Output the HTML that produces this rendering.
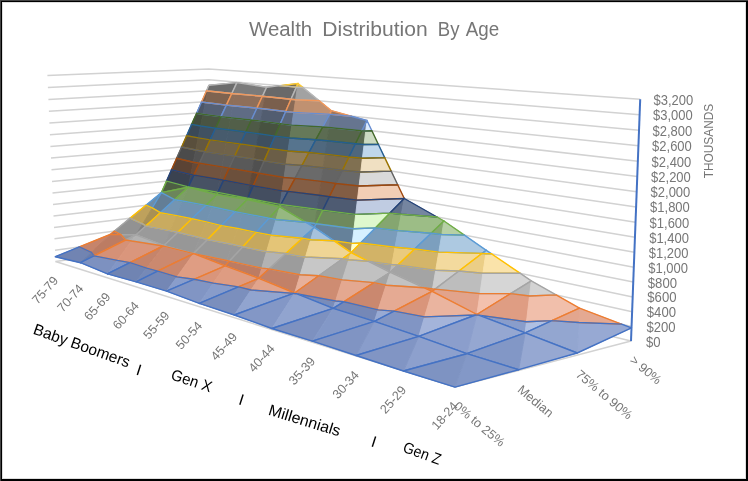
<!DOCTYPE html>
<html><head><meta charset="utf-8"><title>Wealth Distribution By Age</title>
<style>
html,body{margin:0;padding:0;background:#fff}
#chart{position:relative;width:748px;height:481px;background:#fff;overflow:hidden}
svg{position:absolute;left:0;top:0;display:block;will-change:transform}
text{font-family:"Liberation Sans",sans-serif}
</style></head><body>
<div id="chart">
<svg xmlns="http://www.w3.org/2000/svg" width="748" height="481" viewBox="0 0 748 481">
 <path d="M0 0H748V481H0ZM2 2V479H746V2Z" fill="#000" fill-rule="evenodd"/>
<rect x="0" y="0" width="748" height="1" fill="#444"/><rect x="0" y="0" width="1" height="481" fill="#444"/>
<rect x="2.5" y="2.5" width="743" height="476" fill="none" stroke="#000" stroke-opacity="0.13"/>
<path d="M55.5 261.5L212.2 239.6L631.0 341.1M55.0 250.2L212.0 229.1L631.6 326.4M54.5 238.8L211.8 218.7L632.1 311.7M54.0 227.4L211.6 208.2L632.7 297.0M53.5 216.0L211.3 197.7L633.3 282.1M53.0 204.5L211.1 187.1L633.8 267.2M52.5 192.9L210.9 176.5L634.4 252.3M52.0 181.4L210.7 165.9L635.0 237.3M51.5 169.8L210.4 155.2L635.5 222.2M51.0 158.1L210.2 144.6L636.1 207.0M50.4 146.5L210.0 133.8L636.7 191.8M49.9 134.8L209.7 123.1L637.3 176.5M49.4 123.0L209.5 112.3L637.9 161.2M48.9 111.2L209.3 101.5L638.5 145.8M48.4 99.4L209.0 90.7L639.0 130.3M47.9 87.5L208.8 79.8L639.6 114.8M47.4 75.6L208.6 68.9L640.2 99.2" fill="none" stroke="#D2D2D2" stroke-width="1.5" stroke-linejoin="round"/>
<path d="M55.5 261.5L455.0 387.1L631.0 341.1" fill="none" stroke="#D2D2D2" stroke-width="1.5" stroke-linejoin="round"/>
<g stroke-linejoin="round">
<polygon points="161.4,192.6 188.2,187.3 188.3,186.9 166.5,181.1" fill="#4e5f43" stroke="#4e5f43" stroke-width="0.9"/>
<polygon points="188.3,186.9 190.8,174.5 171.5,169.7 166.5,181.1" fill="#3a4250" stroke="#3a4250" stroke-width="0.9"/>
<polygon points="190.8,174.5 193.3,162.2 176.6,158.3 171.5,169.7" fill="#5b4334" stroke="#5b4334" stroke-width="0.9"/>
<polygon points="193.3,162.2 195.8,150.0 181.6,147.0 176.6,158.3" fill="#4b4b4b" stroke="#4b4b4b" stroke-width="0.9"/>
<polygon points="195.8,150.0 198.2,137.9 186.6,135.7 181.6,147.0" fill="#594f3c" stroke="#594f3c" stroke-width="0.9"/>
<polygon points="198.2,137.9 200.6,126.0 191.6,124.4 186.6,135.7" fill="#3a4957" stroke="#3a4957" stroke-width="0.9"/>
<polygon points="200.6,126.0 203.0,114.2 196.6,113.2 191.6,124.4" fill="#424c3c" stroke="#424c3c" stroke-width="0.9"/>
<polygon points="203.0,114.2 205.4,102.5 201.5,102.0 196.6,113.2" fill="#4c5668" stroke="#4c5668" stroke-width="0.9"/>
<polygon points="205.4,102.5 207.8,91.0 206.5,90.8 201.5,102.0" fill="#715948" stroke="#715948" stroke-width="0.9"/>
<polygon points="207.8,91.0 208.9,85.2 206.5,90.8" fill="#616161" stroke="#616161" stroke-width="0.9"/>
<polygon points="188.2,187.3 188.4,186.9 188.3,186.9" fill="#57694a" stroke="#57694a" stroke-width="0.9"/>
<polygon points="188.4,186.9 193.9,175.1 190.8,174.5 188.3,186.9" fill="#404959" stroke="#404959" stroke-width="0.9"/>
<polygon points="193.9,175.1 199.4,163.3 193.3,162.2 190.8,174.5" fill="#654a39" stroke="#654a39" stroke-width="0.9"/>
<polygon points="199.4,163.3 204.8,151.6 195.8,150.0 193.3,162.2" fill="#535353" stroke="#535353" stroke-width="0.9"/>
<polygon points="204.8,151.6 210.2,139.9 198.2,137.9 195.8,150.0" fill="#635842" stroke="#635842" stroke-width="0.9"/>
<polygon points="210.2,139.9 215.6,128.3 200.6,126.0 198.2,137.9" fill="#405161" stroke="#405161" stroke-width="0.9"/>
<polygon points="215.6,128.3 221.0,116.6 203.0,114.2 200.6,126.0" fill="#495442" stroke="#495442" stroke-width="0.9"/>
<polygon points="221.0,116.6 226.4,105.1 205.4,102.5 203.0,114.2" fill="#556074" stroke="#556074" stroke-width="0.9"/>
<polygon points="226.4,105.1 231.8,93.5 207.8,91.0 205.4,102.5" fill="#7e6350" stroke="#7e6350" stroke-width="0.9"/>
<polygon points="231.8,93.5 236.9,82.6 208.9,85.2 207.8,91.0" fill="#6c6c6c" stroke="#6c6c6c" stroke-width="0.9"/>
<path d="M208.9 85.2L206.5 90.8M206.5 90.8L207.8 91.0M231.8 93.5L236.9 82.6M236.9 82.6L208.9 85.2M207.8 91.0L231.8 93.5" stroke="#B7B7B7" fill="none" stroke-width="1.4" stroke-linecap="round"/>
<path d="M207.8 91.0L206.5 90.8M206.5 90.8L201.5 102.0M201.5 102.0L205.4 102.5M226.4 105.1L231.8 93.5M231.8 93.5L207.8 91.0M205.4 102.5L226.4 105.1" stroke="#F1975A" fill="none" stroke-width="1.4" stroke-linecap="round"/>
<path d="M205.4 102.5L201.5 102.0M201.5 102.0L196.6 113.2M196.6 113.2L203.0 114.2M221.0 116.6L226.4 105.1M226.4 105.1L205.4 102.5M203.0 114.2L221.0 116.6" stroke="#698ED0" fill="none" stroke-width="1.4" stroke-linecap="round"/>
<path d="M203.0 114.2L196.6 113.2M196.6 113.2L191.6 124.4M191.6 124.4L200.6 126.0M215.6 128.3L221.0 116.6M221.0 116.6L203.0 114.2M200.6 126.0L215.6 128.3" stroke="#43682B" fill="none" stroke-width="1.4" stroke-linecap="round"/>
<path d="M200.6 126.0L191.6 124.4M191.6 124.4L186.6 135.7M186.6 135.7L198.2 137.9M210.2 139.9L215.6 128.3M215.6 128.3L200.6 126.0M198.2 137.9L210.2 139.9" stroke="#255E91" fill="none" stroke-width="1.4" stroke-linecap="round"/>
<path d="M198.2 137.9L186.6 135.7M186.6 135.7L181.6 147.0M181.6 147.0L195.8 150.0M204.8 151.6L210.2 139.9M210.2 139.9L198.2 137.9M195.8 150.0L204.8 151.6" stroke="#997300" fill="none" stroke-width="1.4" stroke-linecap="round"/>
<path d="M195.8 150.0L181.6 147.0M181.6 147.0L176.6 158.3M176.6 158.3L193.3 162.2M199.4 163.3L204.8 151.6M204.8 151.6L195.8 150.0M193.3 162.2L199.4 163.3" stroke="#636363" fill="none" stroke-width="1.4" stroke-linecap="round"/>
<path d="M193.3 162.2L176.6 158.3M176.6 158.3L171.5 169.7M171.5 169.7L190.8 174.5M193.9 175.1L199.4 163.3M199.4 163.3L193.3 162.2M190.8 174.5L193.9 175.1" stroke="#9E480E" fill="none" stroke-width="1.4" stroke-linecap="round"/>
<path d="M190.8 174.5L171.5 169.7M171.5 169.7L166.5 181.1M166.5 181.1L188.3 186.9M188.4 186.9L193.9 175.1M193.9 175.1L190.8 174.5M188.3 186.9L188.4 186.9" stroke="#264478" fill="none" stroke-width="1.4" stroke-linecap="round"/>
<path d="M161.4 192.6L188.2 187.3M188.3 186.9L166.5 181.1M166.5 181.1L161.4 192.6M188.2 187.3L188.4 186.9M188.4 186.9L188.3 186.9" stroke="#70AD47" fill="none" stroke-width="1.4" stroke-linecap="round"/>
<polygon points="110.1,234.5 121.0,234.6 114.1,231.2" fill="#b57961" stroke="#b57961" stroke-width="0.9"/>
<polygon points="121.0,234.6 136.1,234.8 142.7,223.8 130.1,218.1 114.1,231.2" fill="#929292" stroke="#929292" stroke-width="0.9"/>
<polygon points="142.7,223.8 152.2,207.9 145.9,205.2 130.1,218.1" fill="#bea15c" stroke="#bea15c" stroke-width="0.9"/>
<polygon points="152.2,207.9 161.4,192.6 145.9,205.2" fill="#6e8da9" stroke="#6e8da9" stroke-width="0.9"/>
<polygon points="136.1,234.8 145.8,225.9 142.7,223.8" fill="#828282" stroke="#828282" stroke-width="0.9"/>
<polygon points="145.8,225.9 160.3,212.7 152.2,207.9 142.7,223.8" fill="#a89054" stroke="#a89054" stroke-width="0.9"/>
<polygon points="160.3,212.7 174.6,199.7 161.4,192.6 152.2,207.9" fill="#637e96" stroke="#637e96" stroke-width="0.9"/>
<polygon points="174.6,199.7 188.2,187.3 161.4,192.6" fill="#6c855b" stroke="#6c855b" stroke-width="0.9"/>
<path d="M174.6 199.7L188.2 187.3M188.2 187.3L161.4 192.6" stroke="#70AD47" fill="none" stroke-width="1.4" stroke-linecap="round"/>
<path d="M161.4 192.6L145.9 205.2M145.9 205.2L152.2 207.9M160.3 212.7L174.6 199.7M174.6 199.7L161.4 192.6M161.4 192.6L152.2 207.9M152.2 207.9L160.3 212.7" stroke="#5B9BD5" fill="none" stroke-width="1.4" stroke-linecap="round"/>
<path d="M152.2 207.9L145.9 205.2M145.9 205.2L130.1 218.1M130.1 218.1L142.7 223.8M145.8 225.9L160.3 212.7M160.3 212.7L152.2 207.9M142.7 223.8L145.8 225.9" stroke="#FFC000" fill="none" stroke-width="1.4" stroke-linecap="round"/>
<path d="M121.0 234.6L136.1 234.8M142.7 223.8L130.1 218.1M130.1 218.1L114.1 231.2M114.1 231.2L121.0 234.6M136.1 234.8L145.8 225.9M145.8 225.9L142.7 223.8" stroke="#A5A5A5" fill="none" stroke-width="1.4" stroke-linecap="round"/>
<path d="M110.1 234.5L121.0 234.6M121.0 234.6L114.1 231.2M114.1 231.2L110.1 234.5" stroke="#ED7D31" fill="none" stroke-width="1.4" stroke-linecap="round"/>
<polygon points="188.2,187.3 216.9,194.6 217.4,192.3 188.4,186.9" fill="#617653" stroke="#617653" stroke-width="0.9"/>
<polygon points="217.4,192.3 219.6,179.5 193.9,175.1 188.4,186.9" fill="#475264" stroke="#475264" stroke-width="0.9"/>
<polygon points="219.6,179.5 221.9,166.9 199.4,163.3 193.9,175.1" fill="#71533f" stroke="#71533f" stroke-width="0.9"/>
<polygon points="221.9,166.9 224.1,154.4 204.8,151.6 199.4,163.3" fill="#5d5d5d" stroke="#5d5d5d" stroke-width="0.9"/>
<polygon points="224.1,154.4 226.3,142.1 210.2,139.9 204.8,151.6" fill="#6f624a" stroke="#6f624a" stroke-width="0.9"/>
<polygon points="226.3,142.1 228.5,129.8 215.6,128.3 210.2,139.9" fill="#475b6d" stroke="#475b6d" stroke-width="0.9"/>
<polygon points="228.5,129.8 230.6,117.7 221.0,116.6 215.6,128.3" fill="#515e49" stroke="#515e49" stroke-width="0.9"/>
<polygon points="230.6,117.7 232.7,105.7 226.4,105.1 221.0,116.6" fill="#5f6c83" stroke="#5f6c83" stroke-width="0.9"/>
<polygon points="232.7,105.7 234.9,93.8 231.8,93.5 226.4,105.1" fill="#8e6f59" stroke="#8e6f59" stroke-width="0.9"/>
<polygon points="234.9,93.8 236.9,82.6 231.8,93.5" fill="#7a7a7a" stroke="#7a7a7a" stroke-width="0.9"/>
<polygon points="216.9,194.6 218.0,192.4 217.4,192.3" fill="#627753" stroke="#627753" stroke-width="0.9"/>
<polygon points="218.0,192.4 223.6,180.2 219.6,179.5 217.4,192.3" fill="#485264" stroke="#485264" stroke-width="0.9"/>
<polygon points="223.6,180.2 229.2,168.1 221.9,166.9 219.6,179.5" fill="#72543f" stroke="#72543f" stroke-width="0.9"/>
<polygon points="229.2,168.1 234.8,156.0 224.1,154.4 221.9,166.9" fill="#5d5d5d" stroke="#5d5d5d" stroke-width="0.9"/>
<polygon points="234.8,156.0 240.3,144.0 226.3,142.1 224.1,154.4" fill="#70634a" stroke="#70634a" stroke-width="0.9"/>
<polygon points="240.3,144.0 245.9,132.0 228.5,129.8 226.3,142.1" fill="#475b6d" stroke="#475b6d" stroke-width="0.9"/>
<polygon points="245.9,132.0 251.4,120.0 230.6,117.7 228.5,129.8" fill="#525f49" stroke="#525f49" stroke-width="0.9"/>
<polygon points="251.4,120.0 256.9,108.1 232.7,105.7 230.6,117.7" fill="#5f6c84" stroke="#5f6c84" stroke-width="0.9"/>
<polygon points="256.9,108.1 262.4,96.2 234.9,93.8 232.7,105.7" fill="#8f6f5a" stroke="#8f6f5a" stroke-width="0.9"/>
<polygon points="262.4,96.2 266.6,87.2 236.9,82.6 234.9,93.8" fill="#7b7b7b" stroke="#7b7b7b" stroke-width="0.9"/>
<path d="M236.9 82.6L231.8 93.5M231.8 93.5L234.9 93.8M262.4 96.2L266.6 87.2M266.6 87.2L236.9 82.6M234.9 93.8L262.4 96.2" stroke="#B7B7B7" fill="none" stroke-width="1.4" stroke-linecap="round"/>
<path d="M234.9 93.8L231.8 93.5M231.8 93.5L226.4 105.1M226.4 105.1L232.7 105.7M256.9 108.1L262.4 96.2M262.4 96.2L234.9 93.8M232.7 105.7L256.9 108.1" stroke="#F1975A" fill="none" stroke-width="1.4" stroke-linecap="round"/>
<path d="M232.7 105.7L226.4 105.1M226.4 105.1L221.0 116.6M221.0 116.6L230.6 117.7M251.4 120.0L256.9 108.1M256.9 108.1L232.7 105.7M230.6 117.7L251.4 120.0" stroke="#698ED0" fill="none" stroke-width="1.4" stroke-linecap="round"/>
<path d="M230.6 117.7L221.0 116.6M221.0 116.6L215.6 128.3M215.6 128.3L228.5 129.8M245.9 132.0L251.4 120.0M251.4 120.0L230.6 117.7M228.5 129.8L245.9 132.0" stroke="#43682B" fill="none" stroke-width="1.4" stroke-linecap="round"/>
<path d="M228.5 129.8L215.6 128.3M215.6 128.3L210.2 139.9M210.2 139.9L226.3 142.1M240.3 144.0L245.9 132.0M245.9 132.0L228.5 129.8M226.3 142.1L240.3 144.0" stroke="#255E91" fill="none" stroke-width="1.4" stroke-linecap="round"/>
<path d="M226.3 142.1L210.2 139.9M210.2 139.9L204.8 151.6M204.8 151.6L224.1 154.4M234.8 156.0L240.3 144.0M240.3 144.0L226.3 142.1M224.1 154.4L234.8 156.0" stroke="#997300" fill="none" stroke-width="1.4" stroke-linecap="round"/>
<path d="M224.1 154.4L204.8 151.6M204.8 151.6L199.4 163.3M199.4 163.3L221.9 166.9M229.2 168.1L234.8 156.0M234.8 156.0L224.1 154.4M221.9 166.9L229.2 168.1" stroke="#636363" fill="none" stroke-width="1.4" stroke-linecap="round"/>
<path d="M221.9 166.9L199.4 163.3M199.4 163.3L193.9 175.1M193.9 175.1L219.6 179.5M223.6 180.2L229.2 168.1M229.2 168.1L221.9 166.9M219.6 179.5L223.6 180.2" stroke="#9E480E" fill="none" stroke-width="1.4" stroke-linecap="round"/>
<path d="M219.6 179.5L193.9 175.1M193.9 175.1L188.4 186.9M188.4 186.9L217.4 192.3M218.0 192.4L223.6 180.2M223.6 180.2L219.6 179.5M217.4 192.3L218.0 192.4" stroke="#264478" fill="none" stroke-width="1.4" stroke-linecap="round"/>
<path d="M188.2 187.3L216.9 194.6M217.4 192.3L188.4 186.9M188.4 186.9L188.2 187.3M216.9 194.6L218.0 192.4M218.0 192.4L217.4 192.3" stroke="#70AD47" fill="none" stroke-width="1.4" stroke-linecap="round"/>
<polygon points="55.3,256.7 80.5,262.7 91.4,252.3 79.3,246.9" fill="#7184b2" stroke="#7184b2" stroke-width="0.9"/>
<polygon points="91.4,252.3 110.1,234.5 79.3,246.9" fill="#c6846b" stroke="#c6846b" stroke-width="0.9"/>
<polygon points="80.5,262.7 94.0,255.9 91.4,252.3" fill="#697ca9" stroke="#697ca9" stroke-width="0.9"/>
<polygon points="94.0,255.9 125.7,240.0 121.0,234.6 110.1,234.5 91.4,252.3" fill="#bc7c63" stroke="#bc7c63" stroke-width="0.9"/>
<polygon points="125.7,240.0 136.1,234.8 121.0,234.6" fill="#979797" stroke="#979797" stroke-width="0.9"/>
<path d="M125.7 240.0L136.1 234.8M136.1 234.8L121.0 234.6M121.0 234.6L125.7 240.0" stroke="#A5A5A5" fill="none" stroke-width="1.4" stroke-linecap="round"/>
<path d="M110.1 234.5L79.3 246.9M79.3 246.9L91.4 252.3M94.0 255.9L125.7 240.0M125.7 240.0L121.0 234.6M121.0 234.6L110.1 234.5M91.4 252.3L94.0 255.9" stroke="#ED7D31" fill="none" stroke-width="1.4" stroke-linecap="round"/>
<path d="M55.3 256.7L80.5 262.7M91.4 252.3L79.3 246.9M79.3 246.9L55.3 256.7M80.5 262.7L94.0 255.9M94.0 255.9L91.4 252.3" stroke="#4472C4" fill="none" stroke-width="1.4" stroke-linecap="round"/>
<polygon points="136.1,234.8 164.0,245.6 170.2,230.6 145.8,225.9" fill="#9a9a9a" stroke="#9a9a9a" stroke-width="0.9"/>
<polygon points="170.2,230.6 176.5,215.6 160.3,212.7 145.8,225.9" fill="#c9ab60" stroke="#c9ab60" stroke-width="0.9"/>
<polygon points="176.5,215.6 182.5,201.0 174.6,199.7 160.3,212.7" fill="#7395b3" stroke="#7395b3" stroke-width="0.9"/>
<polygon points="182.5,201.0 188.2,187.3 174.6,199.7" fill="#7e9e68" stroke="#7e9e68" stroke-width="0.9"/>
<polygon points="164.0,245.6 177.9,232.2 170.2,230.6" fill="#979797" stroke="#979797" stroke-width="0.9"/>
<polygon points="177.9,232.2 191.9,218.7 176.5,215.6 170.2,230.6" fill="#c6a85e" stroke="#c6a85e" stroke-width="0.9"/>
<polygon points="191.9,218.7 205.8,205.4 182.5,201.0 176.5,215.6" fill="#7192b0" stroke="#7192b0" stroke-width="0.9"/>
<polygon points="205.8,205.4 216.9,194.6 188.2,187.3 182.5,201.0" fill="#7c9b66" stroke="#7c9b66" stroke-width="0.9"/>
<path d="M188.2 187.3L174.6 199.7M174.6 199.7L182.5 201.0M205.8 205.4L216.9 194.6M216.9 194.6L188.2 187.3M182.5 201.0L205.8 205.4" stroke="#70AD47" fill="none" stroke-width="1.4" stroke-linecap="round"/>
<path d="M182.5 201.0L174.6 199.7M174.6 199.7L160.3 212.7M160.3 212.7L176.5 215.6M191.9 218.7L205.8 205.4M205.8 205.4L182.5 201.0M176.5 215.6L191.9 218.7" stroke="#5B9BD5" fill="none" stroke-width="1.4" stroke-linecap="round"/>
<path d="M176.5 215.6L160.3 212.7M160.3 212.7L145.8 225.9M145.8 225.9L170.2 230.6M177.9 232.2L191.9 218.7M191.9 218.7L176.5 215.6M170.2 230.6L177.9 232.2" stroke="#FFC000" fill="none" stroke-width="1.4" stroke-linecap="round"/>
<path d="M136.1 234.8L164.0 245.6M170.2 230.6L145.8 225.9M145.8 225.9L136.1 234.8M164.0 245.6L177.9 232.2M177.9 232.2L170.2 230.6" stroke="#A5A5A5" fill="none" stroke-width="1.4" stroke-linecap="round"/>
<polygon points="216.9,194.6 247.4,199.5 247.6,198.3 218.0,192.4" fill="#5d714f" stroke="#5d714f" stroke-width="0.9"/>
<polygon points="247.6,198.3 249.8,185.1 223.6,180.2 218.0,192.4" fill="#444e60" stroke="#444e60" stroke-width="0.9"/>
<polygon points="249.8,185.1 252.1,172.0 229.2,168.1 223.6,180.2" fill="#6c503c" stroke="#6c503c" stroke-width="0.9"/>
<polygon points="252.1,172.0 254.3,159.1 234.8,156.0 229.2,168.1" fill="#595959" stroke="#595959" stroke-width="0.9"/>
<polygon points="254.3,159.1 256.4,146.3 240.3,144.0 234.8,156.0" fill="#6b5e47" stroke="#6b5e47" stroke-width="0.9"/>
<polygon points="256.4,146.3 258.6,133.7 245.9,132.0 240.3,144.0" fill="#445768" stroke="#445768" stroke-width="0.9"/>
<polygon points="258.6,133.7 260.8,121.1 251.4,120.0 245.9,132.0" fill="#4e5a46" stroke="#4e5a46" stroke-width="0.9"/>
<polygon points="260.8,121.1 262.9,108.7 256.9,108.1 251.4,120.0" fill="#5b677d" stroke="#5b677d" stroke-width="0.9"/>
<polygon points="262.9,108.7 265.0,96.5 262.4,96.2 256.9,108.1" fill="#886a56" stroke="#886a56" stroke-width="0.9"/>
<polygon points="265.0,96.5 266.6,87.2 262.4,96.2" fill="#757575" stroke="#757575" stroke-width="0.9"/>
<polygon points="247.4,199.5 247.9,198.3 247.6,198.3" fill="#546648" stroke="#546648" stroke-width="0.9"/>
<polygon points="247.9,198.3 253.3,185.8 249.8,185.1 247.6,198.3" fill="#3e4756" stroke="#3e4756" stroke-width="0.9"/>
<polygon points="253.3,185.8 258.8,173.3 252.1,172.0 249.8,185.1" fill="#614837" stroke="#614837" stroke-width="0.9"/>
<polygon points="258.8,173.3 264.2,160.9 254.3,159.1 252.1,172.0" fill="#505050" stroke="#505050" stroke-width="0.9"/>
<polygon points="264.2,160.9 269.6,148.5 256.4,146.3 254.3,159.1" fill="#605540" stroke="#605540" stroke-width="0.9"/>
<polygon points="269.6,148.5 275.0,136.1 258.6,133.7 256.4,146.3" fill="#3e4f5e" stroke="#3e4f5e" stroke-width="0.9"/>
<polygon points="275.0,136.1 280.4,123.8 260.8,121.1 258.6,133.7" fill="#475240" stroke="#475240" stroke-width="0.9"/>
<polygon points="280.4,123.8 285.7,111.5 262.9,108.7 260.8,121.1" fill="#525d70" stroke="#525d70" stroke-width="0.9"/>
<polygon points="285.7,111.5 291.0,99.3 265.0,96.5 262.9,108.7" fill="#7a5f4d" stroke="#7a5f4d" stroke-width="0.9"/>
<polygon points="291.0,99.3 296.4,87.1 280.1,85.6 266.6,87.2 265.0,96.5" fill="#696969" stroke="#696969" stroke-width="0.9"/>
<polygon points="296.4,87.1 298.0,83.5 280.1,85.6" fill="#7e6f4d" stroke="#7e6f4d" stroke-width="0.9"/>
<path d="M296.4 87.1L298.0 83.5M298.0 83.5L280.1 85.6M280.1 85.6L296.4 87.1" stroke="#FFCD33" fill="none" stroke-width="1.4" stroke-linecap="round"/>
<path d="M266.6 87.2L262.4 96.2M262.4 96.2L265.0 96.5M291.0 99.3L296.4 87.1M296.4 87.1L280.1 85.6M280.1 85.6L266.6 87.2M265.0 96.5L291.0 99.3" stroke="#B7B7B7" fill="none" stroke-width="1.4" stroke-linecap="round"/>
<path d="M265.0 96.5L262.4 96.2M262.4 96.2L256.9 108.1M256.9 108.1L262.9 108.7M285.7 111.5L291.0 99.3M291.0 99.3L265.0 96.5M262.9 108.7L285.7 111.5" stroke="#F1975A" fill="none" stroke-width="1.4" stroke-linecap="round"/>
<path d="M262.9 108.7L256.9 108.1M256.9 108.1L251.4 120.0M251.4 120.0L260.8 121.1M280.4 123.8L285.7 111.5M285.7 111.5L262.9 108.7M260.8 121.1L280.4 123.8" stroke="#698ED0" fill="none" stroke-width="1.4" stroke-linecap="round"/>
<path d="M260.8 121.1L251.4 120.0M251.4 120.0L245.9 132.0M245.9 132.0L258.6 133.7M275.0 136.1L280.4 123.8M280.4 123.8L260.8 121.1M258.6 133.7L275.0 136.1" stroke="#43682B" fill="none" stroke-width="1.4" stroke-linecap="round"/>
<path d="M258.6 133.7L245.9 132.0M245.9 132.0L240.3 144.0M240.3 144.0L256.4 146.3M269.6 148.5L275.0 136.1M275.0 136.1L258.6 133.7M256.4 146.3L269.6 148.5" stroke="#255E91" fill="none" stroke-width="1.4" stroke-linecap="round"/>
<path d="M256.4 146.3L240.3 144.0M240.3 144.0L234.8 156.0M234.8 156.0L254.3 159.1M264.2 160.9L269.6 148.5M269.6 148.5L256.4 146.3M254.3 159.1L264.2 160.9" stroke="#997300" fill="none" stroke-width="1.4" stroke-linecap="round"/>
<path d="M254.3 159.1L234.8 156.0M234.8 156.0L229.2 168.1M229.2 168.1L252.1 172.0M258.8 173.3L264.2 160.9M264.2 160.9L254.3 159.1M252.1 172.0L258.8 173.3" stroke="#636363" fill="none" stroke-width="1.4" stroke-linecap="round"/>
<path d="M252.1 172.0L229.2 168.1M229.2 168.1L223.6 180.2M223.6 180.2L249.8 185.1M253.3 185.8L258.8 173.3M258.8 173.3L252.1 172.0M249.8 185.1L253.3 185.8" stroke="#9E480E" fill="none" stroke-width="1.4" stroke-linecap="round"/>
<path d="M249.8 185.1L223.6 180.2M223.6 180.2L218.0 192.4M218.0 192.4L247.6 198.3M247.9 198.3L253.3 185.8M253.3 185.8L249.8 185.1M247.6 198.3L247.9 198.3" stroke="#264478" fill="none" stroke-width="1.4" stroke-linecap="round"/>
<path d="M216.9 194.6L247.4 199.5M247.6 198.3L218.0 192.4M218.0 192.4L216.9 194.6M247.4 199.5L247.9 198.3M247.9 198.3L247.6 198.3" stroke="#70AD47" fill="none" stroke-width="1.4" stroke-linecap="round"/>
<polygon points="80.5,262.7 107.5,273.9 117.3,260.4 94.0,255.9" fill="#7d91c0" stroke="#7d91c0" stroke-width="0.9"/>
<polygon points="117.3,260.4 131.5,241.0 125.7,240.0 94.0,255.9" fill="#d59177" stroke="#d59177" stroke-width="0.9"/>
<polygon points="131.5,241.0 136.1,234.8 125.7,240.0" fill="#adadad" stroke="#adadad" stroke-width="0.9"/>
<polygon points="107.5,273.9 130.0,262.6 117.3,260.4" fill="#8296c6" stroke="#8296c6" stroke-width="0.9"/>
<polygon points="130.0,262.6 163.2,246.0 131.5,241.0 117.3,260.4" fill="#da967c" stroke="#da967c" stroke-width="0.9"/>
<polygon points="163.2,246.0 164.0,245.6 136.1,234.8 131.5,241.0" fill="#b2b2b2" stroke="#b2b2b2" stroke-width="0.9"/>
<path d="M136.1 234.8L125.7 240.0M125.7 240.0L131.5 241.0M163.2 246.0L164.0 245.6M164.0 245.6L136.1 234.8M131.5 241.0L163.2 246.0" stroke="#A5A5A5" fill="none" stroke-width="1.4" stroke-linecap="round"/>
<path d="M131.5 241.0L125.7 240.0M125.7 240.0L94.0 255.9M94.0 255.9L117.3 260.4M130.0 262.6L163.2 246.0M163.2 246.0L131.5 241.0M117.3 260.4L130.0 262.6" stroke="#ED7D31" fill="none" stroke-width="1.4" stroke-linecap="round"/>
<path d="M80.5 262.7L107.5 273.9M117.3 260.4L94.0 255.9M94.0 255.9L80.5 262.7M107.5 273.9L130.0 262.6M130.0 262.6L117.3 260.4" stroke="#4472C4" fill="none" stroke-width="1.4" stroke-linecap="round"/>
<polygon points="164.0,245.6 193.6,253.6 200.0,237.5 177.9,232.2" fill="#979797" stroke="#979797" stroke-width="0.9"/>
<polygon points="200.0,237.5 206.2,221.9 191.9,218.7 177.9,232.2" fill="#c6a85e" stroke="#c6a85e" stroke-width="0.9"/>
<polygon points="206.2,221.9 212.2,206.7 205.8,205.4 191.9,218.7" fill="#7192b0" stroke="#7192b0" stroke-width="0.9"/>
<polygon points="212.2,206.7 216.9,194.6 205.8,205.4" fill="#7c9c66" stroke="#7c9c66" stroke-width="0.9"/>
<polygon points="193.6,253.6 207.6,239.5 200.0,237.5" fill="#989898" stroke="#989898" stroke-width="0.9"/>
<polygon points="207.6,239.5 221.4,225.6 206.2,221.9 200.0,237.5" fill="#c7a95f" stroke="#c7a95f" stroke-width="0.9"/>
<polygon points="221.4,225.6 235.1,211.8 212.2,206.7 206.2,221.9" fill="#7293b1" stroke="#7293b1" stroke-width="0.9"/>
<polygon points="235.1,211.8 247.4,199.5 216.9,194.6 212.2,206.7" fill="#7d9d68" stroke="#7d9d68" stroke-width="0.9"/>
<path d="M216.9 194.6L205.8 205.4M205.8 205.4L212.2 206.7M235.1 211.8L247.4 199.5M247.4 199.5L216.9 194.6M212.2 206.7L235.1 211.8" stroke="#70AD47" fill="none" stroke-width="1.4" stroke-linecap="round"/>
<path d="M212.2 206.7L205.8 205.4M205.8 205.4L191.9 218.7M191.9 218.7L206.2 221.9M221.4 225.6L235.1 211.8M235.1 211.8L212.2 206.7M206.2 221.9L221.4 225.6" stroke="#5B9BD5" fill="none" stroke-width="1.4" stroke-linecap="round"/>
<path d="M206.2 221.9L191.9 218.7M191.9 218.7L177.9 232.2M177.9 232.2L200.0 237.5M207.6 239.5L221.4 225.6M221.4 225.6L206.2 221.9M200.0 237.5L207.6 239.5" stroke="#FFC000" fill="none" stroke-width="1.4" stroke-linecap="round"/>
<path d="M164.0 245.6L193.6 253.6M200.0 237.5L177.9 232.2M177.9 232.2L164.0 245.6M193.6 253.6L207.6 239.5M207.6 239.5L200.0 237.5" stroke="#A5A5A5" fill="none" stroke-width="1.4" stroke-linecap="round"/>
<polygon points="247.4,199.5 279.8,206.8 280.1,204.4 247.9,198.3" fill="#5d714f" stroke="#5d714f" stroke-width="0.9"/>
<polygon points="280.1,204.4 282.1,190.9 253.3,185.8 247.9,198.3" fill="#444e60" stroke="#444e60" stroke-width="0.9"/>
<polygon points="282.1,190.9 284.1,177.5 258.8,173.3 253.3,185.8" fill="#6c503c" stroke="#6c503c" stroke-width="0.9"/>
<polygon points="284.1,177.5 286.0,164.2 264.2,160.9 258.8,173.3" fill="#595959" stroke="#595959" stroke-width="0.9"/>
<polygon points="286.0,164.2 288.0,151.0 269.6,148.5 264.2,160.9" fill="#6b5e47" stroke="#6b5e47" stroke-width="0.9"/>
<polygon points="288.0,151.0 289.9,138.0 275.0,136.1 269.6,148.5" fill="#445768" stroke="#445768" stroke-width="0.9"/>
<polygon points="289.9,138.0 291.8,125.1 280.4,123.8 275.0,136.1" fill="#4e5a46" stroke="#4e5a46" stroke-width="0.9"/>
<polygon points="291.8,125.1 293.7,112.4 285.7,111.5 280.4,123.8" fill="#5b677d" stroke="#5b677d" stroke-width="0.9"/>
<polygon points="293.7,112.4 295.6,99.7 291.0,99.3 285.7,111.5" fill="#886a56" stroke="#886a56" stroke-width="0.9"/>
<polygon points="295.6,99.7 297.4,87.2 296.4,87.1 291.0,99.3" fill="#757575" stroke="#757575" stroke-width="0.9"/>
<polygon points="297.4,87.2 298.0,83.5 296.4,87.1" fill="#8c7c56" stroke="#8c7c56" stroke-width="0.9"/>
<polygon points="279.8,206.8 281.0,204.5 280.1,204.4" fill="#7d9d68" stroke="#7d9d68" stroke-width="0.9"/>
<polygon points="281.0,204.5 288.0,191.4 282.1,190.9 280.1,204.4" fill="#566681" stroke="#566681" stroke-width="0.9"/>
<polygon points="288.0,191.4 295.1,178.4 284.1,177.5 282.1,190.9" fill="#95684a" stroke="#95684a" stroke-width="0.9"/>
<polygon points="295.1,178.4 302.0,165.4 286.0,164.2 284.1,177.5" fill="#767676" stroke="#767676" stroke-width="0.9"/>
<polygon points="302.0,165.4 309.0,152.5 288.0,151.0 286.0,164.2" fill="#927e5a" stroke="#927e5a" stroke-width="0.9"/>
<polygon points="309.0,152.5 315.9,139.7 289.9,138.0 288.0,151.0" fill="#56748e" stroke="#56748e" stroke-width="0.9"/>
<polygon points="315.9,139.7 322.8,127.0 291.8,125.1 289.9,138.0" fill="#667959" stroke="#667959" stroke-width="0.9"/>
<polygon points="322.8,127.0 329.6,114.3 293.7,112.4 291.8,125.1" fill="#798daf" stroke="#798daf" stroke-width="0.9"/>
<polygon points="329.6,114.3 331.5,110.7 319.3,100.8 295.6,99.7 293.7,112.4" fill="#c09171" stroke="#c09171" stroke-width="0.9"/>
<polygon points="319.3,100.8 302.8,87.4 297.4,87.2 295.6,99.7" fill="#a2a2a2" stroke="#a2a2a2" stroke-width="0.9"/>
<polygon points="302.8,87.4 298.0,83.5 297.4,87.2" fill="#c7ad71" stroke="#c7ad71" stroke-width="0.9"/>
<path d="M298.0 83.5L296.4 87.1M296.4 87.1L297.4 87.2M302.8 87.4L298.0 83.5M297.4 87.2L302.8 87.4" stroke="#FFCD33" fill="none" stroke-width="1.4" stroke-linecap="round"/>
<path d="M297.4 87.2L296.4 87.1M296.4 87.1L291.0 99.3M291.0 99.3L295.6 99.7M319.3 100.8L302.8 87.4M302.8 87.4L297.4 87.2M295.6 99.7L319.3 100.8" stroke="#B7B7B7" fill="none" stroke-width="1.4" stroke-linecap="round"/>
<path d="M295.6 99.7L291.0 99.3M291.0 99.3L285.7 111.5M285.7 111.5L293.7 112.4M329.6 114.3L331.5 110.7M331.5 110.7L319.3 100.8M319.3 100.8L295.6 99.7M293.7 112.4L329.6 114.3" stroke="#F1975A" fill="none" stroke-width="1.4" stroke-linecap="round"/>
<path d="M293.7 112.4L285.7 111.5M285.7 111.5L280.4 123.8M280.4 123.8L291.8 125.1M322.8 127.0L329.6 114.3M329.6 114.3L293.7 112.4M291.8 125.1L322.8 127.0" stroke="#698ED0" fill="none" stroke-width="1.4" stroke-linecap="round"/>
<path d="M291.8 125.1L280.4 123.8M280.4 123.8L275.0 136.1M275.0 136.1L289.9 138.0M315.9 139.7L322.8 127.0M322.8 127.0L291.8 125.1M289.9 138.0L315.9 139.7" stroke="#43682B" fill="none" stroke-width="1.4" stroke-linecap="round"/>
<path d="M289.9 138.0L275.0 136.1M275.0 136.1L269.6 148.5M269.6 148.5L288.0 151.0M309.0 152.5L315.9 139.7M315.9 139.7L289.9 138.0M288.0 151.0L309.0 152.5" stroke="#255E91" fill="none" stroke-width="1.4" stroke-linecap="round"/>
<path d="M288.0 151.0L269.6 148.5M269.6 148.5L264.2 160.9M264.2 160.9L286.0 164.2M302.0 165.4L309.0 152.5M309.0 152.5L288.0 151.0M286.0 164.2L302.0 165.4" stroke="#997300" fill="none" stroke-width="1.4" stroke-linecap="round"/>
<path d="M286.0 164.2L264.2 160.9M264.2 160.9L258.8 173.3M258.8 173.3L284.1 177.5M295.1 178.4L302.0 165.4M302.0 165.4L286.0 164.2M284.1 177.5L295.1 178.4" stroke="#636363" fill="none" stroke-width="1.4" stroke-linecap="round"/>
<path d="M284.1 177.5L258.8 173.3M258.8 173.3L253.3 185.8M253.3 185.8L282.1 190.9M288.0 191.4L295.1 178.4M295.1 178.4L284.1 177.5M282.1 190.9L288.0 191.4" stroke="#9E480E" fill="none" stroke-width="1.4" stroke-linecap="round"/>
<path d="M282.1 190.9L253.3 185.8M253.3 185.8L247.9 198.3M247.9 198.3L280.1 204.4M281.0 204.5L288.0 191.4M288.0 191.4L282.1 190.9M280.1 204.4L281.0 204.5" stroke="#264478" fill="none" stroke-width="1.4" stroke-linecap="round"/>
<path d="M247.4 199.5L279.8 206.8M280.1 204.4L247.9 198.3M247.9 198.3L247.4 199.5M279.8 206.8L281.0 204.5M281.0 204.5L280.1 204.4" stroke="#70AD47" fill="none" stroke-width="1.4" stroke-linecap="round"/>
<polygon points="107.5,273.9 136.1,281.8 146.6,268.1 130.0,262.6" fill="#7084b2" stroke="#7084b2" stroke-width="0.9"/>
<polygon points="146.6,268.1 163.6,246.1 163.2,246.0 130.0,262.6" fill="#c5846b" stroke="#c5846b" stroke-width="0.9"/>
<polygon points="163.6,246.1 164.0,245.6 163.2,246.0" fill="#9f9f9f" stroke="#9f9f9f" stroke-width="0.9"/>
<polygon points="136.1,281.8 157.7,271.2 146.6,268.1" fill="#7589b7" stroke="#7589b7" stroke-width="0.9"/>
<polygon points="157.7,271.2 193.6,253.6 163.6,246.1 146.6,268.1" fill="#cb896f" stroke="#cb896f" stroke-width="0.9"/>
<polygon points="193.6,253.6 164.0,245.6 163.6,246.1" fill="#a4a4a4" stroke="#a4a4a4" stroke-width="0.9"/>
<path d="M164.0 245.6L163.2 246.0M163.2 246.0L163.6 246.1M193.6 253.6L164.0 245.6M163.6 246.1L193.6 253.6" stroke="#A5A5A5" fill="none" stroke-width="1.4" stroke-linecap="round"/>
<path d="M163.6 246.1L163.2 246.0M163.2 246.0L130.0 262.6M130.0 262.6L146.6 268.1M157.7 271.2L193.6 253.6M193.6 253.6L163.6 246.1M146.6 268.1L157.7 271.2" stroke="#ED7D31" fill="none" stroke-width="1.4" stroke-linecap="round"/>
<path d="M107.5 273.9L136.1 281.8M146.6 268.1L130.0 262.6M130.0 262.6L107.5 273.9M136.1 281.8L157.7 271.2M157.7 271.2L146.6 268.1" stroke="#4472C4" fill="none" stroke-width="1.4" stroke-linecap="round"/>
<polygon points="193.6,253.6 225.2,265.9 226.9,260.5" fill="#be7e65" stroke="#be7e65" stroke-width="0.9"/>
<polygon points="193.6,253.6 226.9,260.5 232.4,244.3 207.6,239.5" fill="#989898" stroke="#989898" stroke-width="0.9"/>
<polygon points="232.4,244.3 237.7,228.5 221.4,225.6 207.6,239.5" fill="#c7a95f" stroke="#c7a95f" stroke-width="0.9"/>
<polygon points="237.7,228.5 242.8,213.1 235.1,211.8 221.4,225.6" fill="#7293b1" stroke="#7293b1" stroke-width="0.9"/>
<polygon points="242.8,213.1 247.4,199.5 235.1,211.8" fill="#7d9d67" stroke="#7d9d67" stroke-width="0.9"/>
<polygon points="225.2,265.9 229.5,261.1 226.9,260.5" fill="#bd7d64" stroke="#bd7d64" stroke-width="0.9"/>
<polygon points="229.5,261.1 242.9,246.7 232.4,244.3 226.9,260.5" fill="#989898" stroke="#989898" stroke-width="0.9"/>
<polygon points="242.9,246.7 256.1,232.4 237.7,228.5 232.4,244.3" fill="#c7a95f" stroke="#c7a95f" stroke-width="0.9"/>
<polygon points="256.1,232.4 269.1,218.3 242.8,213.1 237.7,228.5" fill="#7193b1" stroke="#7193b1" stroke-width="0.9"/>
<polygon points="269.1,218.3 279.8,206.8 247.4,199.5 242.8,213.1" fill="#7c9c67" stroke="#7c9c67" stroke-width="0.9"/>
<path d="M247.4 199.5L235.1 211.8M235.1 211.8L242.8 213.1M269.1 218.3L279.8 206.8M279.8 206.8L247.4 199.5M242.8 213.1L269.1 218.3" stroke="#70AD47" fill="none" stroke-width="1.4" stroke-linecap="round"/>
<path d="M242.8 213.1L235.1 211.8M235.1 211.8L221.4 225.6M221.4 225.6L237.7 228.5M256.1 232.4L269.1 218.3M269.1 218.3L242.8 213.1M237.7 228.5L256.1 232.4" stroke="#5B9BD5" fill="none" stroke-width="1.4" stroke-linecap="round"/>
<path d="M237.7 228.5L221.4 225.6M221.4 225.6L207.6 239.5M207.6 239.5L232.4 244.3M242.9 246.7L256.1 232.4M256.1 232.4L237.7 228.5M232.4 244.3L242.9 246.7" stroke="#FFC000" fill="none" stroke-width="1.4" stroke-linecap="round"/>
<path d="M193.6 253.6L226.9 260.5M232.4 244.3L207.6 239.5M207.6 239.5L193.6 253.6M229.5 261.1L242.9 246.7M242.9 246.7L232.4 244.3M226.9 260.5L229.5 261.1" stroke="#A5A5A5" fill="none" stroke-width="1.4" stroke-linecap="round"/>
<path d="M193.6 253.6L225.2 265.9M226.9 260.5L193.6 253.6M225.2 265.9L229.5 261.1M229.5 261.1L226.9 260.5" stroke="#ED7D31" fill="none" stroke-width="1.4" stroke-linecap="round"/>
<polygon points="305.6,222.2 314.3,227.4 314.9,223.5" fill="#67839c" stroke="#67839c" stroke-width="0.9"/>
<polygon points="279.8,206.8 305.6,222.2 314.9,223.5 317.0,209.3 281.0,204.5" fill="#708b5e" stroke="#708b5e" stroke-width="0.9"/>
<polygon points="317.0,209.3 319.1,195.3 288.0,191.4 281.0,204.5" fill="#4f5d73" stroke="#4f5d73" stroke-width="0.9"/>
<polygon points="319.1,195.3 321.1,181.4 295.1,178.4 288.0,191.4" fill="#845e45" stroke="#845e45" stroke-width="0.9"/>
<polygon points="321.1,181.4 323.1,167.7 302.0,165.4 295.1,178.4" fill="#6a6a6a" stroke="#6a6a6a" stroke-width="0.9"/>
<polygon points="323.1,167.7 325.1,154.1 309.0,152.5 302.0,165.4" fill="#827152" stroke="#827152" stroke-width="0.9"/>
<polygon points="325.1,154.1 327.1,140.7 315.9,139.7 309.0,152.5" fill="#4f687e" stroke="#4f687e" stroke-width="0.9"/>
<polygon points="327.1,140.7 329.0,127.5 322.8,127.0 315.9,139.7" fill="#5c6c52" stroke="#5c6c52" stroke-width="0.9"/>
<polygon points="329.0,127.5 331.0,114.4 329.6,114.3 322.8,127.0" fill="#6d7d9a" stroke="#6d7d9a" stroke-width="0.9"/>
<polygon points="331.0,114.4 331.5,110.7 329.6,114.3" fill="#a98166" stroke="#a98166" stroke-width="0.9"/>
<polygon points="314.3,227.4 316.1,223.7 314.9,223.5" fill="#607a91" stroke="#607a91" stroke-width="0.9"/>
<polygon points="316.1,223.7 322.8,210.2 317.0,209.3 314.9,223.5" fill="#698158" stroke="#698158" stroke-width="0.9"/>
<polygon points="322.8,210.2 329.4,196.8 319.1,195.3 317.0,209.3" fill="#4b576c" stroke="#4b576c" stroke-width="0.9"/>
<polygon points="329.4,196.8 335.9,183.5 321.1,181.4 319.1,195.3" fill="#7b5942" stroke="#7b5942" stroke-width="0.9"/>
<polygon points="335.9,183.5 342.5,170.2 323.1,167.7 321.1,181.4" fill="#646464" stroke="#646464" stroke-width="0.9"/>
<polygon points="342.5,170.2 349.0,157.0 325.1,154.1 323.1,167.7" fill="#796a4e" stroke="#796a4e" stroke-width="0.9"/>
<polygon points="349.0,157.0 355.5,143.8 327.1,140.7 325.1,154.1" fill="#4b6276" stroke="#4b6276" stroke-width="0.9"/>
<polygon points="355.5,143.8 361.9,130.7 329.0,127.5 327.1,140.7" fill="#57664d" stroke="#57664d" stroke-width="0.9"/>
<polygon points="361.9,130.7 367.0,120.5 351.3,116.2 331.0,114.4 329.0,127.5" fill="#66758f" stroke="#66758f" stroke-width="0.9"/>
<polygon points="351.3,116.2 331.5,110.7 331.0,114.4" fill="#9c7860" stroke="#9c7860" stroke-width="0.9"/>
<path d="M331.5 110.7L329.6 114.3M329.6 114.3L331.0 114.4M351.3 116.2L331.5 110.7M331.0 114.4L351.3 116.2" stroke="#F1975A" fill="none" stroke-width="1.4" stroke-linecap="round"/>
<path d="M331.0 114.4L329.6 114.3M329.6 114.3L322.8 127.0M322.8 127.0L329.0 127.5M361.9 130.7L367.0 120.5M367.0 120.5L351.3 116.2M351.3 116.2L331.0 114.4M329.0 127.5L361.9 130.7" stroke="#698ED0" fill="none" stroke-width="1.4" stroke-linecap="round"/>
<path d="M329.0 127.5L322.8 127.0M322.8 127.0L315.9 139.7M315.9 139.7L327.1 140.7M355.5 143.8L361.9 130.7M361.9 130.7L329.0 127.5M327.1 140.7L355.5 143.8" stroke="#43682B" fill="none" stroke-width="1.4" stroke-linecap="round"/>
<path d="M327.1 140.7L315.9 139.7M315.9 139.7L309.0 152.5M309.0 152.5L325.1 154.1M349.0 157.0L355.5 143.8M355.5 143.8L327.1 140.7M325.1 154.1L349.0 157.0" stroke="#255E91" fill="none" stroke-width="1.4" stroke-linecap="round"/>
<path d="M325.1 154.1L309.0 152.5M309.0 152.5L302.0 165.4M302.0 165.4L323.1 167.7M342.5 170.2L349.0 157.0M349.0 157.0L325.1 154.1M323.1 167.7L342.5 170.2" stroke="#997300" fill="none" stroke-width="1.4" stroke-linecap="round"/>
<path d="M323.1 167.7L302.0 165.4M302.0 165.4L295.1 178.4M295.1 178.4L321.1 181.4M335.9 183.5L342.5 170.2M342.5 170.2L323.1 167.7M321.1 181.4L335.9 183.5" stroke="#636363" fill="none" stroke-width="1.4" stroke-linecap="round"/>
<path d="M321.1 181.4L295.1 178.4M295.1 178.4L288.0 191.4M288.0 191.4L319.1 195.3M329.4 196.8L335.9 183.5M335.9 183.5L321.1 181.4M319.1 195.3L329.4 196.8" stroke="#9E480E" fill="none" stroke-width="1.4" stroke-linecap="round"/>
<path d="M319.1 195.3L288.0 191.4M288.0 191.4L281.0 204.5M281.0 204.5L317.0 209.3M322.8 210.2L329.4 196.8M329.4 196.8L319.1 195.3M317.0 209.3L322.8 210.2" stroke="#264478" fill="none" stroke-width="1.4" stroke-linecap="round"/>
<path d="M279.8 206.8L305.6 222.2M305.6 222.2L314.9 223.5M317.0 209.3L281.0 204.5M281.0 204.5L279.8 206.8M316.1 223.7L322.8 210.2M322.8 210.2L317.0 209.3M314.9 223.5L316.1 223.7" stroke="#70AD47" fill="none" stroke-width="1.4" stroke-linecap="round"/>
<path d="M305.6 222.2L314.3 227.4M314.9 223.5L305.6 222.2M314.3 227.4L316.1 223.7M316.1 223.7L314.9 223.5" stroke="#5B9BD5" fill="none" stroke-width="1.4" stroke-linecap="round"/>
<polygon points="136.1,281.8 166.6,291.1 176.9,276.9 157.7,271.2" fill="#7487b5" stroke="#7487b5" stroke-width="0.9"/>
<polygon points="176.9,276.9 193.6,253.6 157.7,271.2" fill="#c9876e" stroke="#c9876e" stroke-width="0.9"/>
<polygon points="166.6,291.1 194.0,279.3 176.9,276.9" fill="#899dcb" stroke="#899dcb" stroke-width="0.9"/>
<polygon points="194.0,279.3 225.2,265.9 193.6,253.6 176.9,276.9" fill="#df9d83" stroke="#df9d83" stroke-width="0.9"/>
<path d="M193.6 253.6L157.7 271.2M157.7 271.2L176.9 276.9M194.0 279.3L225.2 265.9M225.2 265.9L193.6 253.6M176.9 276.9L194.0 279.3" stroke="#ED7D31" fill="none" stroke-width="1.4" stroke-linecap="round"/>
<path d="M136.1 281.8L166.6 291.1M176.9 276.9L157.7 271.2M157.7 271.2L136.1 281.8M166.6 291.1L194.0 279.3M194.0 279.3L176.9 276.9" stroke="#4472C4" fill="none" stroke-width="1.4" stroke-linecap="round"/>
<polygon points="225.2,265.9 258.8,278.3 261.8,268.1 229.5,261.1" fill="#bc7c63" stroke="#bc7c63" stroke-width="0.9"/>
<polygon points="261.8,268.1 266.6,251.5 242.9,246.7 229.5,261.1" fill="#979797" stroke="#979797" stroke-width="0.9"/>
<polygon points="266.6,251.5 271.4,235.3 256.1,232.4 242.9,246.7" fill="#c6a85e" stroke="#c6a85e" stroke-width="0.9"/>
<polygon points="271.4,235.3 276.0,219.5 269.1,218.3 256.1,232.4" fill="#7092b0" stroke="#7092b0" stroke-width="0.9"/>
<polygon points="276.0,219.5 279.8,206.8 269.1,218.3" fill="#7b9b66" stroke="#7b9b66" stroke-width="0.9"/>
<polygon points="258.8,278.3 269.0,268.9 261.8,268.1" fill="#db977d" stroke="#db977d" stroke-width="0.9"/>
<polygon points="269.0,268.9 285.9,253.5 266.6,251.5 261.8,268.1" fill="#b3b3b3" stroke="#b3b3b3" stroke-width="0.9"/>
<polygon points="285.9,253.5 302.4,238.3 271.4,235.3 266.6,251.5" fill="#e4c577" stroke="#e4c577" stroke-width="0.9"/>
<polygon points="302.4,238.3 314.3,227.4 305.6,222.2 276.0,219.5 271.4,235.3" fill="#8baecd" stroke="#8baecd" stroke-width="0.9"/>
<polygon points="305.6,222.2 279.8,206.8 276.0,219.5" fill="#96b880" stroke="#96b880" stroke-width="0.9"/>
<path d="M279.8 206.8L269.1 218.3M269.1 218.3L276.0 219.5M305.6 222.2L279.8 206.8M276.0 219.5L305.6 222.2" stroke="#70AD47" fill="none" stroke-width="1.4" stroke-linecap="round"/>
<path d="M276.0 219.5L269.1 218.3M269.1 218.3L256.1 232.4M256.1 232.4L271.4 235.3M302.4 238.3L314.3 227.4M314.3 227.4L305.6 222.2M305.6 222.2L276.0 219.5M271.4 235.3L302.4 238.3" stroke="#5B9BD5" fill="none" stroke-width="1.4" stroke-linecap="round"/>
<path d="M271.4 235.3L256.1 232.4M256.1 232.4L242.9 246.7M242.9 246.7L266.6 251.5M285.9 253.5L302.4 238.3M302.4 238.3L271.4 235.3M266.6 251.5L285.9 253.5" stroke="#FFC000" fill="none" stroke-width="1.4" stroke-linecap="round"/>
<path d="M266.6 251.5L242.9 246.7M242.9 246.7L229.5 261.1M229.5 261.1L261.8 268.1M269.0 268.9L285.9 253.5M285.9 253.5L266.6 251.5M261.8 268.1L269.0 268.9" stroke="#A5A5A5" fill="none" stroke-width="1.4" stroke-linecap="round"/>
<path d="M225.2 265.9L258.8 278.3M261.8 268.1L229.5 261.1M229.5 261.1L225.2 265.9M258.8 278.3L269.0 268.9M269.0 268.9L261.8 268.1" stroke="#ED7D31" fill="none" stroke-width="1.4" stroke-linecap="round"/>
<polygon points="333.7,240.7 351.1,252.7 352.2,243.4" fill="#ac9356" stroke="#ac9356" stroke-width="0.9"/>
<polygon points="314.3,227.4 333.7,240.7 352.2,243.4 354.0,228.8 316.1,223.7" fill="#65819a" stroke="#65819a" stroke-width="0.9"/>
<polygon points="354.0,228.8 355.7,214.4 322.8,210.2 316.1,223.7" fill="#6e895d" stroke="#6e895d" stroke-width="0.9"/>
<polygon points="355.7,214.4 357.4,200.1 329.4,196.8 322.8,210.2" fill="#4e5b72" stroke="#4e5b72" stroke-width="0.9"/>
<polygon points="357.4,200.1 359.1,186.0 335.9,183.5 329.4,196.8" fill="#825d44" stroke="#825d44" stroke-width="0.9"/>
<polygon points="359.1,186.0 360.8,172.0 342.5,170.2 335.9,183.5" fill="#696969" stroke="#696969" stroke-width="0.9"/>
<polygon points="360.8,172.0 362.4,158.2 349.0,157.0 342.5,170.2" fill="#807051" stroke="#807051" stroke-width="0.9"/>
<polygon points="362.4,158.2 364.1,144.5 355.5,143.8 349.0,157.0" fill="#4e677d" stroke="#4e677d" stroke-width="0.9"/>
<polygon points="364.1,144.5 365.7,131.0 361.9,130.7 355.5,143.8" fill="#5b6b51" stroke="#5b6b51" stroke-width="0.9"/>
<polygon points="365.7,131.0 367.0,120.5 361.9,130.7" fill="#6b7b98" stroke="#6b7b98" stroke-width="0.9"/>
<polygon points="351.1,252.7 360.6,243.0 352.2,243.4" fill="#ffffc7" stroke="#ffffc7" stroke-width="0.9"/>
<polygon points="360.6,243.0 375.4,227.9 354.0,228.8 352.2,243.4" fill="#d6f0ff" stroke="#d6f0ff" stroke-width="0.9"/>
<polygon points="375.4,227.9 390.0,213.1 355.7,214.4 354.0,228.8" fill="#def8cd" stroke="#def8cd" stroke-width="0.9"/>
<polygon points="390.0,213.1 404.3,198.5 357.4,200.1 355.7,214.4" fill="#c0cce2" stroke="#c0cce2" stroke-width="0.9"/>
<polygon points="404.3,198.5 397.7,184.7 359.1,186.0 357.4,200.1" fill="#f2ceb5" stroke="#f2ceb5" stroke-width="0.9"/>
<polygon points="397.7,184.7 391.2,171.1 360.8,172.0 359.1,186.0" fill="#d9d9d9" stroke="#d9d9d9" stroke-width="0.9"/>
<polygon points="391.2,171.1 384.7,157.6 362.4,158.2 360.8,172.0" fill="#f0e0c2" stroke="#f0e0c2" stroke-width="0.9"/>
<polygon points="384.7,157.6 378.3,144.2 364.1,144.5 362.4,158.2" fill="#bfd7ec" stroke="#bfd7ec" stroke-width="0.9"/>
<polygon points="378.3,144.2 371.9,130.8 365.7,131.0 364.1,144.5" fill="#ccdbc2" stroke="#ccdbc2" stroke-width="0.9"/>
<polygon points="371.9,130.8 367.0,120.5 365.7,131.0" fill="#dcebff" stroke="#dcebff" stroke-width="0.9"/>
<path d="M367.0 120.5L361.9 130.7M361.9 130.7L365.7 131.0M371.9 130.8L367.0 120.5M365.7 131.0L371.9 130.8" stroke="#698ED0" fill="none" stroke-width="1.4" stroke-linecap="round"/>
<path d="M365.7 131.0L361.9 130.7M361.9 130.7L355.5 143.8M355.5 143.8L364.1 144.5M378.3 144.2L371.9 130.8M371.9 130.8L365.7 131.0M364.1 144.5L378.3 144.2" stroke="#43682B" fill="none" stroke-width="1.4" stroke-linecap="round"/>
<path d="M364.1 144.5L355.5 143.8M355.5 143.8L349.0 157.0M349.0 157.0L362.4 158.2M384.7 157.6L378.3 144.2M378.3 144.2L364.1 144.5M362.4 158.2L384.7 157.6" stroke="#255E91" fill="none" stroke-width="1.4" stroke-linecap="round"/>
<path d="M362.4 158.2L349.0 157.0M349.0 157.0L342.5 170.2M342.5 170.2L360.8 172.0M391.2 171.1L384.7 157.6M384.7 157.6L362.4 158.2M360.8 172.0L391.2 171.1" stroke="#997300" fill="none" stroke-width="1.4" stroke-linecap="round"/>
<path d="M360.8 172.0L342.5 170.2M342.5 170.2L335.9 183.5M335.9 183.5L359.1 186.0M397.7 184.7L391.2 171.1M391.2 171.1L360.8 172.0M359.1 186.0L397.7 184.7" stroke="#636363" fill="none" stroke-width="1.4" stroke-linecap="round"/>
<path d="M359.1 186.0L335.9 183.5M335.9 183.5L329.4 196.8M329.4 196.8L357.4 200.1M404.3 198.5L397.7 184.7M397.7 184.7L359.1 186.0M357.4 200.1L404.3 198.5" stroke="#9E480E" fill="none" stroke-width="1.4" stroke-linecap="round"/>
<path d="M357.4 200.1L329.4 196.8M329.4 196.8L322.8 210.2M322.8 210.2L355.7 214.4M390.0 213.1L404.3 198.5M404.3 198.5L357.4 200.1M355.7 214.4L390.0 213.1" stroke="#264478" fill="none" stroke-width="1.4" stroke-linecap="round"/>
<path d="M355.7 214.4L322.8 210.2M322.8 210.2L316.1 223.7M316.1 223.7L354.0 228.8M375.4 227.9L390.0 213.1M390.0 213.1L355.7 214.4M354.0 228.8L375.4 227.9" stroke="#70AD47" fill="none" stroke-width="1.4" stroke-linecap="round"/>
<path d="M314.3 227.4L333.7 240.7M333.7 240.7L352.2 243.4M354.0 228.8L316.1 223.7M316.1 223.7L314.3 227.4M360.6 243.0L375.4 227.9M375.4 227.9L354.0 228.8M352.2 243.4L360.6 243.0" stroke="#5B9BD5" fill="none" stroke-width="1.4" stroke-linecap="round"/>
<path d="M333.7 240.7L351.1 252.7M352.2 243.4L333.7 240.7M351.1 252.7L360.6 243.0M360.6 243.0L352.2 243.4" stroke="#FFC000" fill="none" stroke-width="1.4" stroke-linecap="round"/>
<polygon points="166.6,291.1 199.3,303.4 213.3,283.1 194.0,279.3" fill="#8195c4" stroke="#8195c4" stroke-width="0.9"/>
<polygon points="213.3,283.1 225.2,265.9 194.0,279.3" fill="#d9957b" stroke="#d9957b" stroke-width="0.9"/>
<polygon points="199.3,303.4 238.5,286.9 213.3,283.1" fill="#889cca" stroke="#889cca" stroke-width="0.9"/>
<polygon points="238.5,286.9 258.8,278.3 225.2,265.9 213.3,283.1" fill="#de9c82" stroke="#de9c82" stroke-width="0.9"/>
<path d="M225.2 265.9L194.0 279.3M194.0 279.3L213.3 283.1M238.5 286.9L258.8 278.3M258.8 278.3L225.2 265.9M213.3 283.1L238.5 286.9" stroke="#ED7D31" fill="none" stroke-width="1.4" stroke-linecap="round"/>
<path d="M166.6 291.1L199.3 303.4M213.3 283.1L194.0 279.3M194.0 279.3L166.6 291.1M199.3 303.4L238.5 286.9M238.5 286.9L213.3 283.1" stroke="#4472C4" fill="none" stroke-width="1.4" stroke-linecap="round"/>
<polygon points="258.8,278.3 294.7,293.0 300.2,274.8 269.0,268.9" fill="#c28168" stroke="#c28168" stroke-width="0.9"/>
<polygon points="300.2,274.8 305.5,257.0 285.9,253.5 269.0,268.9" fill="#9c9c9c" stroke="#9c9c9c" stroke-width="0.9"/>
<polygon points="305.5,257.0 310.7,239.7 302.4,238.3 285.9,253.5" fill="#ccad62" stroke="#ccad62" stroke-width="0.9"/>
<polygon points="310.7,239.7 314.3,227.4 302.4,238.3" fill="#7597b6" stroke="#7597b6" stroke-width="0.9"/>
<polygon points="294.7,293.0 318.8,275.8 300.2,274.8" fill="#e7b09a" stroke="#e7b09a" stroke-width="0.9"/>
<polygon points="318.8,275.8 342.6,258.8 305.5,257.0 300.2,274.8" fill="#c7c7c7" stroke="#c7c7c7" stroke-width="0.9"/>
<polygon points="342.6,258.8 351.1,252.7 333.7,240.7 310.7,239.7 305.5,257.0" fill="#efd595" stroke="#efd595" stroke-width="0.9"/>
<polygon points="333.7,240.7 314.3,227.4 310.7,239.7" fill="#a6c2dc" stroke="#a6c2dc" stroke-width="0.9"/>
<path d="M314.3 227.4L302.4 238.3M302.4 238.3L310.7 239.7M333.7 240.7L314.3 227.4M310.7 239.7L333.7 240.7" stroke="#5B9BD5" fill="none" stroke-width="1.4" stroke-linecap="round"/>
<path d="M310.7 239.7L302.4 238.3M302.4 238.3L285.9 253.5M285.9 253.5L305.5 257.0M342.6 258.8L351.1 252.7M351.1 252.7L333.7 240.7M333.7 240.7L310.7 239.7M305.5 257.0L342.6 258.8" stroke="#FFC000" fill="none" stroke-width="1.4" stroke-linecap="round"/>
<path d="M305.5 257.0L285.9 253.5M285.9 253.5L269.0 268.9M269.0 268.9L300.2 274.8M318.8 275.8L342.6 258.8M342.6 258.8L305.5 257.0M300.2 274.8L318.8 275.8" stroke="#A5A5A5" fill="none" stroke-width="1.4" stroke-linecap="round"/>
<path d="M258.8 278.3L294.7 293.0M300.2 274.8L269.0 268.9M269.0 268.9L258.8 278.3M294.7 293.0L318.8 275.8M318.8 275.8L300.2 274.8" stroke="#ED7D31" fill="none" stroke-width="1.4" stroke-linecap="round"/>
<polygon points="368.3,261.3 390.3,272.3 391.8,264.5" fill="#a2a2a2" stroke="#a2a2a2" stroke-width="0.9"/>
<polygon points="351.1,252.7 368.3,261.3 391.8,264.5 395.0,247.3 360.6,243.0" fill="#d2b367" stroke="#d2b367" stroke-width="0.9"/>
<polygon points="395.0,247.3 398.2,230.6 375.4,227.9 360.6,243.0" fill="#7a9cbb" stroke="#7a9cbb" stroke-width="0.9"/>
<polygon points="398.2,230.6 401.3,214.3 390.0,213.1 375.4,227.9" fill="#85a670" stroke="#85a670" stroke-width="0.9"/>
<polygon points="401.3,214.3 404.3,198.5 390.0,213.1" fill="#5e6e8a" stroke="#5e6e8a" stroke-width="0.9"/>
<polygon points="390.3,272.3 397.9,265.0 391.8,264.5" fill="#b9b9b9" stroke="#b9b9b9" stroke-width="0.9"/>
<polygon points="397.9,265.0 414.7,249.0 395.0,247.3 391.8,264.5" fill="#e9ca7e" stroke="#e9ca7e" stroke-width="0.9"/>
<polygon points="414.7,249.0 431.2,233.2 398.2,230.6 395.0,247.3" fill="#91b3d2" stroke="#91b3d2" stroke-width="0.9"/>
<polygon points="431.2,233.2 444.0,221.0 437.0,217.0 401.3,214.3 398.2,230.6" fill="#9cbd86" stroke="#9cbd86" stroke-width="0.9"/>
<polygon points="437.0,217.0 404.3,198.5 401.3,214.3" fill="#7585a0" stroke="#7585a0" stroke-width="0.9"/>
<path d="M404.3 198.5L390.0 213.1M390.0 213.1L401.3 214.3M437.0 217.0L404.3 198.5M401.3 214.3L437.0 217.0" stroke="#264478" fill="none" stroke-width="1.4" stroke-linecap="round"/>
<path d="M401.3 214.3L390.0 213.1M390.0 213.1L375.4 227.9M375.4 227.9L398.2 230.6M431.2 233.2L444.0 221.0M444.0 221.0L437.0 217.0M437.0 217.0L401.3 214.3M398.2 230.6L431.2 233.2" stroke="#70AD47" fill="none" stroke-width="1.4" stroke-linecap="round"/>
<path d="M398.2 230.6L375.4 227.9M375.4 227.9L360.6 243.0M360.6 243.0L395.0 247.3M414.7 249.0L431.2 233.2M431.2 233.2L398.2 230.6M395.0 247.3L414.7 249.0" stroke="#5B9BD5" fill="none" stroke-width="1.4" stroke-linecap="round"/>
<path d="M351.1 252.7L368.3 261.3M368.3 261.3L391.8 264.5M395.0 247.3L360.6 243.0M360.6 243.0L351.1 252.7M397.9 265.0L414.7 249.0M414.7 249.0L395.0 247.3M391.8 264.5L397.9 265.0" stroke="#FFC000" fill="none" stroke-width="1.4" stroke-linecap="round"/>
<path d="M368.3 261.3L390.3 272.3M391.8 264.5L368.3 261.3M390.3 272.3L397.9 265.0M397.9 265.0L391.8 264.5" stroke="#A5A5A5" fill="none" stroke-width="1.4" stroke-linecap="round"/>
<polygon points="199.3,303.4 234.3,315.0 251.0,290.0 238.5,286.9" fill="#7b8fbd" stroke="#7b8fbd" stroke-width="0.9"/>
<polygon points="251.0,290.0 258.8,278.3 238.5,286.9" fill="#d18f75" stroke="#d18f75" stroke-width="0.9"/>
<polygon points="234.3,315.0 293.6,293.4 251.0,290.0" fill="#91a4cf" stroke="#91a4cf" stroke-width="0.9"/>
<polygon points="293.6,293.4 294.7,293.0 258.8,278.3 251.0,290.0" fill="#e2a48b" stroke="#e2a48b" stroke-width="0.9"/>
<path d="M258.8 278.3L238.5 286.9M238.5 286.9L251.0 290.0M293.6 293.4L294.7 293.0M294.7 293.0L258.8 278.3M251.0 290.0L293.6 293.4" stroke="#ED7D31" fill="none" stroke-width="1.4" stroke-linecap="round"/>
<path d="M199.3 303.4L234.3 315.0M251.0 290.0L238.5 286.9M238.5 286.9L199.3 303.4M234.3 315.0L293.6 293.4M293.6 293.4L251.0 290.0" stroke="#4472C4" fill="none" stroke-width="1.4" stroke-linecap="round"/>
<polygon points="296.3,293.7 333.2,308.4 335.6,301.0" fill="#788cba" stroke="#788cba" stroke-width="0.9"/>
<polygon points="294.7,293.0 296.3,293.7 335.6,301.0 342.3,279.9 318.8,275.8" fill="#ce8c72" stroke="#ce8c72" stroke-width="0.9"/>
<polygon points="342.3,279.9 348.8,259.8 342.6,258.8 318.8,275.8" fill="#a7a7a7" stroke="#a7a7a7" stroke-width="0.9"/>
<polygon points="348.8,259.8 351.1,252.7 342.6,258.8" fill="#d8b86c" stroke="#d8b86c" stroke-width="0.9"/>
<polygon points="333.2,308.4 343.7,301.8 335.6,301.0" fill="#96a8d2" stroke="#96a8d2" stroke-width="0.9"/>
<polygon points="343.7,301.8 374.0,282.6 342.3,279.9 335.6,301.0" fill="#e4a890" stroke="#e4a890" stroke-width="0.9"/>
<polygon points="374.0,282.6 390.3,272.3 368.3,261.3 348.8,259.8 342.3,279.9" fill="#c1c1c1" stroke="#c1c1c1" stroke-width="0.9"/>
<polygon points="368.3,261.3 351.1,252.7 348.8,259.8" fill="#ecd08b" stroke="#ecd08b" stroke-width="0.9"/>
<path d="M351.1 252.7L342.6 258.8M342.6 258.8L348.8 259.8M368.3 261.3L351.1 252.7M348.8 259.8L368.3 261.3" stroke="#FFC000" fill="none" stroke-width="1.4" stroke-linecap="round"/>
<path d="M348.8 259.8L342.6 258.8M342.6 258.8L318.8 275.8M318.8 275.8L342.3 279.9M374.0 282.6L390.3 272.3M390.3 272.3L368.3 261.3M368.3 261.3L348.8 259.8M342.3 279.9L374.0 282.6" stroke="#A5A5A5" fill="none" stroke-width="1.4" stroke-linecap="round"/>
<path d="M294.7 293.0L296.3 293.7M296.3 293.7L335.6 301.0M342.3 279.9L318.8 275.8M318.8 275.8L294.7 293.0M343.7 301.8L374.0 282.6M374.0 282.6L342.3 279.9M335.6 301.0L343.7 301.8" stroke="#ED7D31" fill="none" stroke-width="1.4" stroke-linecap="round"/>
<path d="M296.3 293.7L333.2 308.4M335.6 301.0L296.3 293.7M333.2 308.4L343.7 301.8M343.7 301.8L335.6 301.0" stroke="#4472C4" fill="none" stroke-width="1.4" stroke-linecap="round"/>
<polygon points="424.2,287.8 432.1,291.4 432.5,289.0" fill="#cb896f" stroke="#cb896f" stroke-width="0.9"/>
<polygon points="390.3,272.3 424.2,287.8 432.5,289.0 435.7,270.3 397.9,265.0" fill="#a4a4a4" stroke="#a4a4a4" stroke-width="0.9"/>
<polygon points="435.7,270.3 438.8,252.1 414.7,249.0 397.9,265.0" fill="#d4b569" stroke="#d4b569" stroke-width="0.9"/>
<polygon points="438.8,252.1 441.8,234.5 431.2,233.2 414.7,249.0" fill="#7c9fbe" stroke="#7c9fbe" stroke-width="0.9"/>
<polygon points="441.8,234.5 444.0,221.0 431.2,233.2" fill="#88a872" stroke="#88a872" stroke-width="0.9"/>
<polygon points="432.1,291.4 435.1,289.1 432.5,289.0" fill="#ecb7a2" stroke="#ecb7a2" stroke-width="0.9"/>
<polygon points="435.1,289.1 459.0,271.0 435.7,270.3 432.5,289.0" fill="#cdcdcd" stroke="#cdcdcd" stroke-width="0.9"/>
<polygon points="459.0,271.0 482.1,253.4 438.8,252.1 435.7,270.3" fill="#f3da9e" stroke="#f3da9e" stroke-width="0.9"/>
<polygon points="482.1,253.4 486.3,250.3 464.4,235.1 441.8,234.5 438.8,252.1" fill="#adc9e1" stroke="#adc9e1" stroke-width="0.9"/>
<polygon points="464.4,235.1 444.0,221.0 441.8,234.5" fill="#b6d0a5" stroke="#b6d0a5" stroke-width="0.9"/>
<path d="M444.0 221.0L431.2 233.2M431.2 233.2L441.8 234.5M464.4 235.1L444.0 221.0M441.8 234.5L464.4 235.1" stroke="#70AD47" fill="none" stroke-width="1.4" stroke-linecap="round"/>
<path d="M441.8 234.5L431.2 233.2M431.2 233.2L414.7 249.0M414.7 249.0L438.8 252.1M482.1 253.4L486.3 250.3M486.3 250.3L464.4 235.1M464.4 235.1L441.8 234.5M438.8 252.1L482.1 253.4" stroke="#5B9BD5" fill="none" stroke-width="1.4" stroke-linecap="round"/>
<path d="M438.8 252.1L414.7 249.0M414.7 249.0L397.9 265.0M397.9 265.0L435.7 270.3M459.0 271.0L482.1 253.4M482.1 253.4L438.8 252.1M435.7 270.3L459.0 271.0" stroke="#FFC000" fill="none" stroke-width="1.4" stroke-linecap="round"/>
<path d="M390.3 272.3L424.2 287.8M424.2 287.8L432.5 289.0M435.7 270.3L397.9 265.0M397.9 265.0L390.3 272.3M435.1 289.1L459.0 271.0M459.0 271.0L435.7 270.3M432.5 289.0L435.1 289.1" stroke="#A5A5A5" fill="none" stroke-width="1.4" stroke-linecap="round"/>
<path d="M424.2 287.8L432.1 291.4M432.5 289.0L424.2 287.8M432.1 291.4L435.1 289.1M435.1 289.1L432.5 289.0" stroke="#ED7D31" fill="none" stroke-width="1.4" stroke-linecap="round"/>
<polygon points="234.3,315.0 271.9,328.5 294.4,293.6 293.6,293.4" fill="#8397c6" stroke="#8397c6" stroke-width="0.9"/>
<polygon points="294.4,293.6 294.7,293.0 293.6,293.4" fill="#da977d" stroke="#da977d" stroke-width="0.9"/>
<polygon points="271.9,328.5 333.2,308.4 296.3,293.7 294.4,293.6" fill="#91a4cf" stroke="#91a4cf" stroke-width="0.9"/>
<polygon points="296.3,293.7 294.7,293.0 294.4,293.6" fill="#e2a48b" stroke="#e2a48b" stroke-width="0.9"/>
<path d="M294.7 293.0L293.6 293.4M293.6 293.4L294.4 293.6M296.3 293.7L294.7 293.0M294.4 293.6L296.3 293.7" stroke="#ED7D31" fill="none" stroke-width="1.4" stroke-linecap="round"/>
<path d="M234.3 315.0L271.9 328.5M294.4 293.6L293.6 293.4M293.6 293.4L234.3 315.0M271.9 328.5L333.2 308.4M333.2 308.4L296.3 293.7M296.3 293.7L294.4 293.6" stroke="#4472C4" fill="none" stroke-width="1.4" stroke-linecap="round"/>
<polygon points="333.2,308.4 374.4,321.3 378.1,309.9 343.7,301.8" fill="#7588b7" stroke="#7588b7" stroke-width="0.9"/>
<polygon points="378.1,309.9 386.1,285.2 374.0,282.6 343.7,301.8" fill="#ca886f" stroke="#ca886f" stroke-width="0.9"/>
<polygon points="386.1,285.2 390.3,272.3 374.0,282.6" fill="#a4a4a4" stroke="#a4a4a4" stroke-width="0.9"/>
<polygon points="374.4,321.3 394.2,311.1 378.1,309.9" fill="#98aad3" stroke="#98aad3" stroke-width="0.9"/>
<polygon points="394.2,311.1 432.1,291.4 424.2,287.8 386.1,285.2 378.1,309.9" fill="#e5aa93" stroke="#e5aa93" stroke-width="0.9"/>
<polygon points="424.2,287.8 390.3,272.3 386.1,285.2" fill="#c2c2c2" stroke="#c2c2c2" stroke-width="0.9"/>
<path d="M390.3 272.3L374.0 282.6M374.0 282.6L386.1 285.2M424.2 287.8L390.3 272.3M386.1 285.2L424.2 287.8" stroke="#A5A5A5" fill="none" stroke-width="1.4" stroke-linecap="round"/>
<path d="M386.1 285.2L374.0 282.6M374.0 282.6L343.7 301.8M343.7 301.8L378.1 309.9M394.2 311.1L432.1 291.4M432.1 291.4L424.2 287.8M424.2 287.8L386.1 285.2M378.1 309.9L394.2 311.1" stroke="#ED7D31" fill="none" stroke-width="1.4" stroke-linecap="round"/>
<path d="M333.2 308.4L374.4 321.3M378.1 309.9L343.7 301.8M343.7 301.8L333.2 308.4M374.4 321.3L394.2 311.1M394.2 311.1L378.1 309.9" stroke="#4472C4" fill="none" stroke-width="1.4" stroke-linecap="round"/>
<polygon points="432.1,291.4 476.9,314.5 480.0,293.6 435.1,289.1" fill="#e2a38b" stroke="#e2a38b" stroke-width="0.9"/>
<polygon points="480.0,293.6 482.9,273.2 459.0,271.0 435.1,289.1" fill="#bdbdbd" stroke="#bdbdbd" stroke-width="0.9"/>
<polygon points="482.9,273.2 485.8,253.7 482.1,253.4 459.0,271.0" fill="#ebce86" stroke="#ebce86" stroke-width="0.9"/>
<polygon points="485.8,253.7 486.3,250.3 482.1,253.4" fill="#98b8d6" stroke="#98b8d6" stroke-width="0.9"/>
<polygon points="476.9,314.5 510.7,293.6 480.0,293.6" fill="#f3c1ae" stroke="#f3c1ae" stroke-width="0.9"/>
<polygon points="510.7,293.6 531.3,280.8 520.0,273.2 482.9,273.2 480.0,293.6" fill="#d6d6d6" stroke="#d6d6d6" stroke-width="0.9"/>
<polygon points="520.0,273.2 491.3,253.7 485.8,253.7 482.9,273.2" fill="#fae3aa" stroke="#fae3aa" stroke-width="0.9"/>
<polygon points="491.3,253.7 486.3,250.3 485.8,253.7" fill="#b8d2e9" stroke="#b8d2e9" stroke-width="0.9"/>
<path d="M486.3 250.3L482.1 253.4M482.1 253.4L485.8 253.7M491.3 253.7L486.3 250.3M485.8 253.7L491.3 253.7" stroke="#5B9BD5" fill="none" stroke-width="1.4" stroke-linecap="round"/>
<path d="M485.8 253.7L482.1 253.4M482.1 253.4L459.0 271.0M459.0 271.0L482.9 273.2M520.0 273.2L491.3 253.7M491.3 253.7L485.8 253.7M482.9 273.2L520.0 273.2" stroke="#FFC000" fill="none" stroke-width="1.4" stroke-linecap="round"/>
<path d="M482.9 273.2L459.0 271.0M459.0 271.0L435.1 289.1M435.1 289.1L480.0 293.6M510.7 293.6L531.3 280.8M531.3 280.8L520.0 273.2M520.0 273.2L482.9 273.2M480.0 293.6L510.7 293.6" stroke="#A5A5A5" fill="none" stroke-width="1.4" stroke-linecap="round"/>
<path d="M432.1 291.4L476.9 314.5M480.0 293.6L435.1 289.1M435.1 289.1L432.1 291.4M476.9 314.5L510.7 293.6M510.7 293.6L480.0 293.6" stroke="#ED7D31" fill="none" stroke-width="1.4" stroke-linecap="round"/>
<polygon points="271.9,328.5 312.4,341.2 333.2,308.4" fill="#7d91c0" stroke="#7d91c0" stroke-width="0.9"/>
<polygon points="312.4,341.2 374.4,321.3 333.2,308.4" fill="#8398c7" stroke="#8398c7" stroke-width="0.9"/>
<path d="M271.9 328.5L312.4 341.2M333.2 308.4L271.9 328.5M312.4 341.2L374.4 321.3M374.4 321.3L333.2 308.4" stroke="#4472C4" fill="none" stroke-width="1.4" stroke-linecap="round"/>
<polygon points="374.4,321.3 418.8,336.4 424.6,316.9 394.2,311.1" fill="#8195c4" stroke="#8195c4" stroke-width="0.9"/>
<polygon points="424.6,316.9 432.1,291.4 394.2,311.1" fill="#d9957b" stroke="#d9957b" stroke-width="0.9"/>
<polygon points="418.8,336.4 475.6,315.0 424.6,316.9" fill="#a4b4da" stroke="#a4b4da" stroke-width="0.9"/>
<polygon points="475.6,315.0 476.9,314.5 432.1,291.4 424.6,316.9" fill="#eab49f" stroke="#eab49f" stroke-width="0.9"/>
<path d="M432.1 291.4L394.2 311.1M394.2 311.1L424.6 316.9M475.6 315.0L476.9 314.5M476.9 314.5L432.1 291.4M424.6 316.9L475.6 315.0" stroke="#ED7D31" fill="none" stroke-width="1.4" stroke-linecap="round"/>
<path d="M374.4 321.3L418.8 336.4M424.6 316.9L394.2 311.1M394.2 311.1L374.4 321.3M418.8 336.4L475.6 315.0M475.6 315.0L424.6 316.9" stroke="#4472C4" fill="none" stroke-width="1.4" stroke-linecap="round"/>
<polygon points="478.6,315.1 525.2,332.9 526.5,321.7" fill="#899dcb" stroke="#899dcb" stroke-width="0.9"/>
<polygon points="476.9,314.5 478.6,315.1 526.5,321.7 529.5,296.0 510.7,293.6" fill="#df9d83" stroke="#df9d83" stroke-width="0.9"/>
<polygon points="529.5,296.0 531.3,280.8 510.7,293.6" fill="#b8b8b8" stroke="#b8b8b8" stroke-width="0.9"/>
<polygon points="525.2,332.9 552.0,320.6 526.5,321.7" fill="#afbfe2" stroke="#afbfe2" stroke-width="0.9"/>
<polygon points="552.0,320.6 579.5,308.2 556.1,294.9 529.5,296.0 526.5,321.7" fill="#f1bfab" stroke="#f1bfab" stroke-width="0.9"/>
<polygon points="556.1,294.9 531.3,280.8 529.5,296.0" fill="#d3d3d3" stroke="#d3d3d3" stroke-width="0.9"/>
<path d="M531.3 280.8L510.7 293.6M510.7 293.6L529.5 296.0M556.1 294.9L531.3 280.8M529.5 296.0L556.1 294.9" stroke="#A5A5A5" fill="none" stroke-width="1.4" stroke-linecap="round"/>
<path d="M476.9 314.5L478.6 315.1M478.6 315.1L526.5 321.7M529.5 296.0L510.7 293.6M510.7 293.6L476.9 314.5M552.0 320.6L579.5 308.2M579.5 308.2L556.1 294.9M556.1 294.9L529.5 296.0M526.5 321.7L552.0 320.6" stroke="#ED7D31" fill="none" stroke-width="1.4" stroke-linecap="round"/>
<path d="M478.6 315.1L525.2 332.9M526.5 321.7L478.6 315.1M525.2 332.9L552.0 320.6M552.0 320.6L526.5 321.7" stroke="#4472C4" fill="none" stroke-width="1.4" stroke-linecap="round"/>
<polygon points="577.2,353.0 631.5,327.9 621.5,324.1 578.7,322.5" fill="#97a9d3" stroke="#97a9d3" stroke-width="0.9"/>
<polygon points="621.5,324.1 579.5,308.2 578.7,322.5" fill="#e4a992" stroke="#e4a992" stroke-width="0.9"/>
<polygon points="525.2,332.9 577.2,353.0 578.7,322.5 552.0,320.6" fill="#93a6d0" stroke="#93a6d0" stroke-width="0.9"/>
<polygon points="578.7,322.5 579.5,308.2 552.0,320.6" fill="#e3a68e" stroke="#e3a68e" stroke-width="0.9"/>
<path d="M621.5 324.1L579.5 308.2M578.7 322.5L621.5 324.1M579.5 308.2L552.0 320.6M552.0 320.6L578.7 322.5" stroke="#ED7D31" fill="none" stroke-width="1.4" stroke-linecap="round"/>
<path d="M577.2 353.0L631.5 327.9M631.5 327.9L621.5 324.1M621.5 324.1L578.7 322.5M525.2 332.9L577.2 353.0M578.7 322.5L552.0 320.6M552.0 320.6L525.2 332.9" stroke="#4472C4" fill="none" stroke-width="1.4" stroke-linecap="round"/>
<polygon points="466.8,353.7 525.2,332.9 478.6,315.1 476.8,315.1" fill="#95a7d1" stroke="#95a7d1" stroke-width="0.9"/>
<polygon points="478.6,315.1 476.9,314.5 476.8,315.1" fill="#e3a78f" stroke="#e3a78f" stroke-width="0.9"/>
<polygon points="418.8,336.4 466.8,353.7 476.8,315.1 475.6,315.0" fill="#8b9ecc" stroke="#8b9ecc" stroke-width="0.9"/>
<polygon points="476.8,315.1 476.9,314.5 475.6,315.0" fill="#e09e85" stroke="#e09e85" stroke-width="0.9"/>
<path d="M478.6 315.1L476.9 314.5M476.8 315.1L478.6 315.1M476.9 314.5L475.6 315.0M475.6 315.0L476.8 315.1" stroke="#ED7D31" fill="none" stroke-width="1.4" stroke-linecap="round"/>
<path d="M466.8 353.7L525.2 332.9M525.2 332.9L478.6 315.1M478.6 315.1L476.8 315.1M418.8 336.4L466.8 353.7M476.8 315.1L475.6 315.0M475.6 315.0L418.8 336.4" stroke="#4472C4" fill="none" stroke-width="1.4" stroke-linecap="round"/>
<polygon points="356.1,355.5 418.8,336.4 374.4,321.3" fill="#899dcb" stroke="#899dcb" stroke-width="0.9"/>
<polygon points="312.4,341.2 356.1,355.5 374.4,321.3" fill="#8094c3" stroke="#8094c3" stroke-width="0.9"/>
<path d="M356.1 355.5L418.8 336.4M418.8 336.4L374.4 321.3M312.4 341.2L356.1 355.5M374.4 321.3L312.4 341.2" stroke="#4472C4" fill="none" stroke-width="1.4" stroke-linecap="round"/>
<polygon points="518.7,369.7 577.2,353.0 525.2,332.9" fill="#96a8d2" stroke="#96a8d2" stroke-width="0.9"/>
<polygon points="466.8,353.7 518.7,369.7 525.2,332.9" fill="#8297c6" stroke="#8297c6" stroke-width="0.9"/>
<path d="M518.7 369.7L577.2 353.0M577.2 353.0L525.2 332.9M466.8 353.7L518.7 369.7M525.2 332.9L466.8 353.7" stroke="#4472C4" fill="none" stroke-width="1.4" stroke-linecap="round"/>
<polygon points="403.5,371.0 466.8,353.7 418.8,336.4" fill="#8da0cd" stroke="#8da0cd" stroke-width="0.9"/>
<polygon points="356.1,355.5 403.5,371.0 418.8,336.4" fill="#8195c4" stroke="#8195c4" stroke-width="0.9"/>
<path d="M403.5 371.0L466.8 353.7M466.8 353.7L418.8 336.4M356.1 355.5L403.5 371.0M418.8 336.4L356.1 355.5" stroke="#4472C4" fill="none" stroke-width="1.4" stroke-linecap="round"/>
<polygon points="455.0,387.1 518.7,369.7 466.8,353.7" fill="#8398c7" stroke="#8398c7" stroke-width="0.9"/>
<polygon points="403.5,371.0 455.0,387.1 466.8,353.7" fill="#7e93c2" stroke="#7e93c2" stroke-width="0.9"/>
<path d="M455.0 387.1L518.7 369.7M518.7 369.7L466.8 353.7M403.5 371.0L455.0 387.1M466.8 353.7L403.5 371.0" stroke="#4472C4" fill="none" stroke-width="1.4" stroke-linecap="round"/>
</g>
<path d="M631.0 341.1L640.2 99.2" stroke="#4472C4" stroke-width="2" fill="none"/>
<text y="36" font-size="19.5" fill="#767676"><tspan x="249" textLength="63.2" lengthAdjust="spacingAndGlyphs">Wealth</tspan> <tspan x="322.3" textLength="105.4" lengthAdjust="spacingAndGlyphs">Distribution</tspan> <tspan x="437.8" textLength="21.7" lengthAdjust="spacingAndGlyphs">By</tspan> <tspan x="465.8" textLength="33.4" lengthAdjust="spacingAndGlyphs">Age</tspan></text>
<text x="645.9" y="346.5" font-size="14.6" fill="#777777" textLength="14.6" lengthAdjust="spacingAndGlyphs">$0</text>
<text x="646.4" y="331.8" font-size="14.6" fill="#777777" textLength="29.2" lengthAdjust="spacingAndGlyphs">$200</text>
<text x="646.8" y="317.1" font-size="14.6" fill="#777777" textLength="29.2" lengthAdjust="spacingAndGlyphs">$400</text>
<text x="647.3" y="302.4" font-size="14.6" fill="#777777" textLength="29.2" lengthAdjust="spacingAndGlyphs">$600</text>
<text x="647.8" y="287.5" font-size="14.6" fill="#777777" textLength="29.2" lengthAdjust="spacingAndGlyphs">$800</text>
<text x="648.2" y="272.6" font-size="14.6" fill="#777777" textLength="39.7" lengthAdjust="spacingAndGlyphs">$1,000</text>
<text x="648.7" y="257.7" font-size="14.6" fill="#777777" textLength="39.7" lengthAdjust="spacingAndGlyphs">$1,200</text>
<text x="649.2" y="242.7" font-size="14.6" fill="#777777" textLength="39.7" lengthAdjust="spacingAndGlyphs">$1,400</text>
<text x="649.6" y="227.6" font-size="14.6" fill="#777777" textLength="39.7" lengthAdjust="spacingAndGlyphs">$1,600</text>
<text x="650.1" y="212.4" font-size="14.6" fill="#777777" textLength="39.7" lengthAdjust="spacingAndGlyphs">$1,800</text>
<text x="650.6" y="197.2" font-size="14.6" fill="#777777" textLength="39.7" lengthAdjust="spacingAndGlyphs">$2,000</text>
<text x="651.1" y="181.9" font-size="14.6" fill="#777777" textLength="39.7" lengthAdjust="spacingAndGlyphs">$2,200</text>
<text x="651.6" y="166.6" font-size="14.6" fill="#777777" textLength="39.7" lengthAdjust="spacingAndGlyphs">$2,400</text>
<text x="652.1" y="151.2" font-size="14.6" fill="#777777" textLength="39.7" lengthAdjust="spacingAndGlyphs">$2,600</text>
<text x="652.5" y="135.7" font-size="14.6" fill="#777777" textLength="39.7" lengthAdjust="spacingAndGlyphs">$2,800</text>
<text x="653.0" y="120.2" font-size="14.6" fill="#777777" textLength="39.7" lengthAdjust="spacingAndGlyphs">$3,000</text>
<text x="653.5" y="104.6" font-size="14.6" fill="#777777" textLength="39.7" lengthAdjust="spacingAndGlyphs">$3,200</text>
<text transform="translate(713,141) rotate(-90)" font-size="12.3" fill="#777777" text-anchor="middle" textLength="74.6" lengthAdjust="spacingAndGlyphs">THOUSANDS</text>
<text transform="translate(59.0,281.0) rotate(-48)" font-size="12.6" fill="#777777" text-anchor="end">75-79</text>
<text transform="translate(84.3,289.0) rotate(-48)" font-size="12.6" fill="#777777" text-anchor="end">70-74</text>
<text transform="translate(111.1,297.4) rotate(-48)" font-size="12.6" fill="#777777" text-anchor="end">65-69</text>
<text transform="translate(139.8,306.4) rotate(-48)" font-size="12.6" fill="#777777" text-anchor="end">60-64</text>
<text transform="translate(170.3,316.0) rotate(-48)" font-size="12.6" fill="#777777" text-anchor="end">55-59</text>
<text transform="translate(202.9,326.3) rotate(-48)" font-size="12.6" fill="#777777" text-anchor="end">50-54</text>
<text transform="translate(237.9,337.3) rotate(-48)" font-size="12.6" fill="#777777" text-anchor="end">45-49</text>
<text transform="translate(275.5,349.1) rotate(-48)" font-size="12.6" fill="#777777" text-anchor="end">40-44</text>
<text transform="translate(315.9,361.8) rotate(-48)" font-size="12.6" fill="#777777" text-anchor="end">35-39</text>
<text transform="translate(359.6,375.6) rotate(-48)" font-size="12.6" fill="#777777" text-anchor="end">30-34</text>
<text transform="translate(407.0,390.5) rotate(-48)" font-size="12.6" fill="#777777" text-anchor="end">25-29</text>
<text transform="translate(458.5,406.6) rotate(-48)" font-size="12.6" fill="#777777" text-anchor="end">18-24</text>
<text transform="translate(453.0,407.6) rotate(40)" font-size="12.8" fill="#777777">0% to 25%</text>
<text transform="translate(516.7,391.0) rotate(40)" font-size="12.8" fill="#777777">Median</text>
<text transform="translate(575.1,375.7) rotate(40)" font-size="12.8" fill="#777777">75% to 90%</text>
<text transform="translate(629.0,361.6) rotate(40)" font-size="12.8" fill="#777777">&gt; 90%</text>
<text transform="translate(32.2,333.6) rotate(19.5)" font-size="15.6" fill="#000" textLength="101.5" lengthAdjust="spacingAndGlyphs">Baby Boomers</text>
<text transform="translate(135.3,374.2) rotate(18)" font-size="15.6" fill="#000">I</text>
<text transform="translate(170.1,378.9) rotate(19)" font-size="15.6" fill="#000" textLength="41.9" lengthAdjust="spacingAndGlyphs">Gen X</text>
<text transform="translate(237.8,404) rotate(18)" font-size="15.6" fill="#000">I</text>
<text transform="translate(267.5,414.6) rotate(17)" font-size="15.6" fill="#000" textLength="74.5" lengthAdjust="spacingAndGlyphs">Millennials</text>
<text transform="translate(370.3,446) rotate(18)" font-size="15.6" fill="#000">I</text>
<text transform="translate(402,451.5) rotate(20)" font-size="15.6" fill="#000" textLength="39.1" lengthAdjust="spacingAndGlyphs">Gen Z</text>
</svg>
</div>
</body></html>
